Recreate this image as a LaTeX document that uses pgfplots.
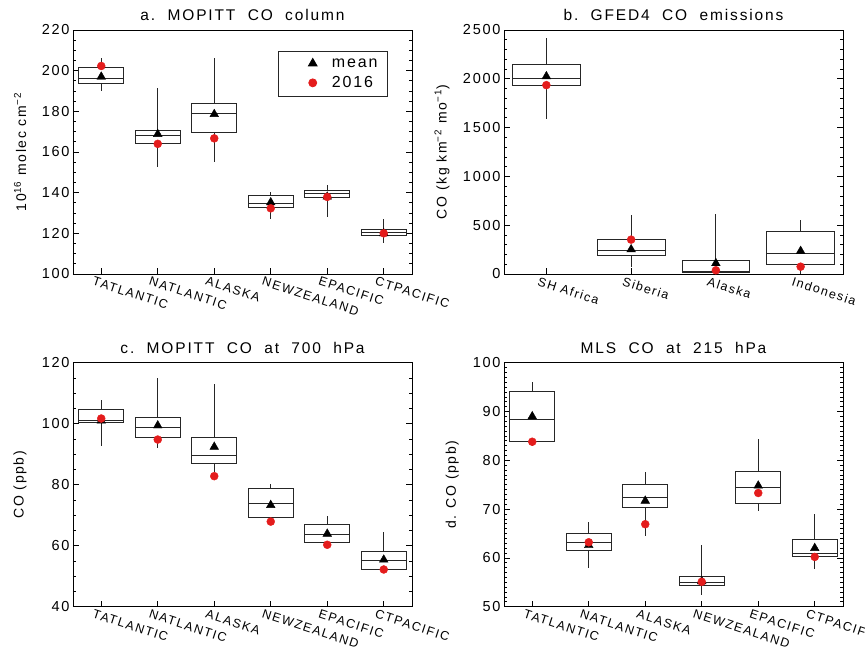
\documentclass[border=0pt]{standalone}
\usepackage{fontspec}
\setmainfont{Liberation Sans}[LetterSpace=12]
\usepackage{pgfplots}
\pgfplotsset{compat=1.18}
\usepgfplotslibrary{statistics}
\definecolor{dotred}{RGB}{228,28,28}

\newcommand{\bx}[6]{%
  \addplot[boxst, boxplot prepared={draw position=#1, lower whisker=#2,
    lower quartile=#3, median=#4, upper quartile=#5, upper whisker=#6}]
    coordinates {};}

\pgfplotsset{
  boxst/.style={black!85, line width=0.9pt, forget plot,
    boxplot/box extend=0.8, boxplot/whisker extend=0},
  panel/.style={
    width=339pt, height=244pt, scale only axis,
    axis line style={line width=0.8pt},
    every tick/.style={black, line width=0.7pt},
    major tick length=6pt, minor tick length=3pt,
    xtick pos=lower,
    /pgf/number format/assume math mode=true,
    /pgf/number format/1000 sep={},
    yticklabel style={font=\fontsize{14.5}{14.5}\selectfont},
    xticklabel style={font=\fontsize{12.5}{12.5}\selectfont,
      rotate=-18, anchor=north west, xshift=-9pt, yshift=-1pt},
    title style={font=\fontsize{15.5}{15.5}\selectfont, yshift=0pt},
    label style={font=\fontsize{14}{14}\selectfont},
    boxplot/draw direction=y,
  },
  mean/.style={only marks, mark=triangle*, mark size=5pt, black},
  yr/.style={only marks, mark=*, mark size=4pt, dotred, mark options={draw=dotred, fill=dotred}},
}

\begin{document}
\begin{tikzpicture}
\useasboundingbox (0,0) rectangle (865pt,650pt);

% a
\begin{axis}[panel, at={(73pt,376pt)}, anchor=south west,
  xmin=0.5, xmax=6.5, xtick={1,...,6},
  xticklabels={TATLANTIC,NATLANTIC,ALASKA,NEWZEALAND,EPACIFIC,CTPACIFIC},
  ymin=100, ymax=220, ytick={100,120,...,220}, minor y tick num=3,
  title={a.\ \ MOPITT\ \ CO\ \ column},
  ylabel={10\textsuperscript{16} molec cm\textsuperscript{−2}},
  ylabel style={at={(axis description cs:-0.156,0.5)}, anchor=center},
  legend style={at={(1,1)}, anchor=north east, xshift=-24pt, yshift=-21pt,
    draw=black!85, line width=0.8pt, font=\fontsize{16}{16}\selectfont,
    inner xsep=8pt, inner ysep=5pt, row sep=4pt},
  legend image code/.code={%
    \path (-0.6cm,0cm);
    \draw[mark repeat=2, mark phase=2, #1] plot coordinates {(0cm,0cm) (0.3cm,0cm) (0.6cm,0cm)};},
  legend cell align=left]
\bx{1}{189.8}{193.9}{196.2}{201.6}{206.2}
\bx{2}{152.5}{164.1}{167.9}{170.7}{191.5}
\bx{3}{154.9}{169.5}{178.9}{183.8}{206.2}
\bx{4}{127.2}{132.5}{134.8}{138.7}{140.2}
\bx{5}{128.0}{137.4}{139.8}{141.3}{143.9}
\bx{6}{115.1}{119.0}{120.3}{122.0}{127.2}
\addplot[mean] coordinates {(1,197) (2,168.8) (3,178.6) (4,135.2) (5,138) (6,120)};
\addlegendentry{\ \ mean}
\addplot[yr] coordinates {(1,202.3) (2,164) (3,166.7) (4,132.3) (5,137.9) (6,120)};
\addlegendentry{\ \ 2016}
\end{axis}

% b
\begin{axis}[panel, at={(504pt,376pt)}, anchor=south west,
  xmin=0.5, xmax=4.5, xtick={1,...,4},
  xticklabels={SH Africa,Siberia,Alaska,Indonesia},
  ymin=0, ymax=2500, ytick={0,500,...,2500}, minor y tick num=4,
  title={b.\ \ GFED4\ \ CO\ \ emissions},
  ylabel={CO (kg km\textsuperscript{−2} mo\textsuperscript{−1})},
  ylabel style={at={(axis description cs:-0.183,0.5)}, anchor=center}]
\bx{1}{1590}{1935}{2007}{2150}{2417}
\bx{2}{72}{191}{246}{352}{605}
\bx{3}{0}{14}{27}{140}{618}
\bx{4}{0}{95}{215}{437}{557}
\addplot[mean] coordinates {(1,2025) (2,252) (3,110) (4,235)};
\addplot[yr] coordinates {(1,1935) (2,352) (3,38) (4,75)};
\end{axis}

% c
\begin{axis}[panel, at={(73pt,43.3pt)}, anchor=south west,
  xmin=0.5, xmax=6.5, xtick={1,...,6},
  xticklabels={TATLANTIC,NATLANTIC,ALASKA,NEWZEALAND,EPACIFIC,CTPACIFIC},
  ymin=40, ymax=120, ytick={40,60,...,120}, minor y tick num=3,
  title={c.\ \ MOPITT\ \ CO\ \ at\ \ 700\ \ hPa},
  ylabel={CO (ppb)},
  ylabel style={at={(axis description cs:-0.156,0.5)}, anchor=center}]
\bx{1}{92.8}{100.5}{101.2}{104.6}{107.7}
\bx{2}{92.0}{95.4}{98.7}{101.9}{115.1}
\bx{3}{84.0}{87.1}{89.5}{95.5}{113.1}
\bx{4}{69.4}{69.4}{73.7}{78.9}{80.3}
\bx{5}{61.0}{61.0}{63.6}{67.1}{69.6}
\bx{6}{52.3}{52.3}{55.2}{58.0}{64.5}
\addplot[mean] coordinates {(1,101) (2,99.4) (3,92.4) (4,73.3) (5,63.9) (6,55.4)};
\addplot[yr] coordinates {(1,101.7) (2,94.8) (3,82.8) (4,67.9) (5,60.3) (6,52.2)};
\end{axis}

% d
\begin{axis}[panel, at={(504pt,43.3pt)}, anchor=south west,
  xmin=0.5, xmax=6.5, xtick={1,...,6},
  xticklabels={TATLANTIC,NATLANTIC,ALASKA,NEWZEALAND,EPACIFIC,CTPACIFIC},
  ymin=50, ymax=100, ytick={50,60,...,100}, minor y tick num=9,
  title={MLS\ \ CO\ \ at\ \ 215\ \ hPa},
  ylabel={d. CO (ppb)},
  ylabel style={at={(axis description cs:-0.153,0.5)}, anchor=center}]
\bx{1}{83.0}{83.8}{88.4}{94.2}{96.1}
\bx{2}{58.0}{61.6}{63.2}{65.0}{67.3}
\bx{3}{64.5}{70.4}{72.4}{75.1}{77.6}
\bx{4}{52.3}{54.3}{55.0}{56.3}{62.6}
\bx{5}{69.7}{71.2}{74.4}{77.7}{84.3}
\bx{6}{57.7}{60.2}{61.0}{63.7}{69.0}
\addplot[mean] coordinates {(1,89) (2,62.6) (3,71.7) (4,55.2) (5,74.8) (6,62)};
\addplot[yr] coordinates {(1,83.8) (2,63.2) (3,66.9) (4,55.1) (5,73.3) (6,60.2)};
\end{axis}
\end{tikzpicture}
\end{document}
